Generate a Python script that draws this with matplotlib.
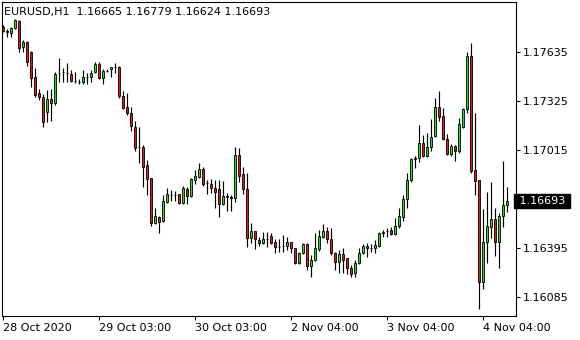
import matplotlib
matplotlib.use("Agg")
import matplotlib.pyplot as plt
import numpy as np

# EURUSD H1 bars, 28 Oct - 4 Nov 2020
opens = [1.17793, 1.17768, 1.17755, 1.17787, 1.17831, 1.17667, 1.17698, 1.17635, 1.17477, 1.17376,
         1.17350, 1.17255, 1.17338, 1.17312, 1.17502, 1.17508, 1.17502, 1.17496, 1.17452, 1.17445,
         1.17445, 1.17477, 1.17477, 1.17508, 1.17559, 1.17470, 1.17515, 1.17527, 1.17540, 1.17540,
         1.17357, 1.17287, 1.17249, 1.17160, 1.17034, 1.17034, 1.16920, 1.16838, 1.16553, 1.16591,
         1.16566, 1.16686, 1.16730, 1.16730, 1.16737, 1.16680, 1.16768, 1.16724, 1.16825, 1.16844,
         1.16895, 1.16806, 1.16800, 1.16775, 1.16768, 1.16673, 1.16724, 1.16718, 1.16711, 1.16983,
         1.16863, 1.16768, 1.16458, 1.16502, 1.16446, 1.16427, 1.16452, 1.16471, 1.16433, 1.16401,
         1.16408, 1.16408, 1.16433, 1.16395, 1.16300, 1.16363, 1.16420, 1.16281, 1.16319, 1.16389,
         1.16465, 1.16502, 1.16452, 1.16363, 1.16306, 1.16357, 1.16332, 1.16268, 1.16237, 1.16300,
         1.16363, 1.16408, 1.16395, 1.16395, 1.16408, 1.16490, 1.16502, 1.16509, 1.16483, 1.16534,
         1.16591, 1.16705, 1.16825, 1.16958, 1.16964, 1.17059, 1.16977, 1.17034, 1.17104, 1.17287,
         1.17230, 1.17085, 1.16990, 1.17040, 1.17009, 1.17160, 1.17274, 1.17610, 1.16888, 1.16825,
         1.16180, 1.16433, 1.16528, 1.16578, 1.16433, 1.16597, 1.16665]
highs = [1.17806, 1.17781, 1.17793, 1.17844, 1.17837, 1.17711, 1.17705, 1.17641, 1.17534, 1.17401,
         1.17369, 1.17395, 1.17401, 1.17508, 1.17597, 1.17534, 1.17565, 1.17521, 1.17508, 1.17464,
         1.17521, 1.17502, 1.17521, 1.17572, 1.17572, 1.17527, 1.17527, 1.17540, 1.17565, 1.17546,
         1.17388, 1.17376, 1.17287, 1.17198, 1.17160, 1.17047, 1.16952, 1.16838, 1.16648, 1.16597,
         1.16730, 1.16775, 1.16762, 1.16756, 1.16737, 1.16787, 1.16781, 1.16838, 1.16888, 1.16933,
         1.16907, 1.16825, 1.16831, 1.16825, 1.16825, 1.16819, 1.16743, 1.16730, 1.17034, 1.17028,
         1.16907, 1.16869, 1.16553, 1.16502, 1.16465, 1.16496, 1.16496, 1.16490, 1.16452, 1.16452,
         1.16477, 1.16465, 1.16433, 1.16395, 1.16370, 1.16427, 1.16427, 1.16351, 1.16490, 1.16509,
         1.16547, 1.16528, 1.16521, 1.16370, 1.16382, 1.16395, 1.16332, 1.16287, 1.16319, 1.16395,
         1.16420, 1.16427, 1.16420, 1.16446, 1.16496, 1.16509, 1.16521, 1.16528, 1.16585, 1.16648,
         1.16730, 1.16869, 1.16964, 1.16977, 1.17173, 1.17110, 1.17123, 1.17211, 1.17344, 1.17388,
         1.17281, 1.17116, 1.17053, 1.17047, 1.17217, 1.17281, 1.17635, 1.17692, 1.17249, 1.16825,
         1.16642, 1.16749, 1.16812, 1.16648, 1.16616, 1.16945, 1.16779]
lows = [1.17762, 1.17730, 1.17730, 1.17781, 1.17635, 1.17635, 1.17546, 1.17414, 1.17350, 1.17331,
        1.17160, 1.17192, 1.17198, 1.17300, 1.17445, 1.17445, 1.17445, 1.17445, 1.17439, 1.17433,
        1.17433, 1.17433, 1.17445, 1.17502, 1.17464, 1.17433, 1.17508, 1.17477, 1.17502, 1.17344,
        1.17274, 1.17236, 1.17135, 1.17009, 1.16933, 1.16781, 1.16730, 1.16534, 1.16547, 1.16490,
        1.16559, 1.16680, 1.16692, 1.16692, 1.16673, 1.16673, 1.16673, 1.16718, 1.16800, 1.16838,
        1.16787, 1.16737, 1.16743, 1.16648, 1.16591, 1.16667, 1.16629, 1.16629, 1.16686, 1.16812,
        1.16737, 1.16401, 1.16427, 1.16389, 1.16408, 1.16420, 1.16401, 1.16420, 1.16363, 1.16370,
        1.16370, 1.16382, 1.16363, 1.16294, 1.16294, 1.16357, 1.16256, 1.16211, 1.16313, 1.16376,
        1.16458, 1.16427, 1.16351, 1.16256, 1.16237, 1.16237, 1.16230, 1.16211, 1.16211, 1.16294,
        1.16357, 1.16338, 1.16370, 1.16363, 1.16401, 1.16465, 1.16465, 1.16477, 1.16477, 1.16521,
        1.16566, 1.16648, 1.16812, 1.16901, 1.16939, 1.16971, 1.16971, 1.17009, 1.17097, 1.17198,
        1.17078, 1.16983, 1.16977, 1.16945, 1.16996, 1.17154, 1.17249, 1.16869, 1.16730, 1.16009,
        1.16135, 1.16300, 1.16458, 1.16344, 1.16268, 1.16528, 1.16624]
closes = [1.17768, 1.17762, 1.17787, 1.17837, 1.17660, 1.17698, 1.17572, 1.17470, 1.17363, 1.17350,
          1.17192, 1.17338, 1.17312, 1.17496, 1.17502, 1.17508, 1.17502, 1.17452, 1.17452, 1.17445,
          1.17477, 1.17477, 1.17502, 1.17559, 1.17470, 1.17515, 1.17515, 1.17540, 1.17540, 1.17357,
          1.17281, 1.17249, 1.17167, 1.17028, 1.17034, 1.16907, 1.16831, 1.16553, 1.16597, 1.16559,
          1.16692, 1.16737, 1.16730, 1.16730, 1.16680, 1.16775, 1.16724, 1.16831, 1.16850, 1.16895,
          1.16800, 1.16806, 1.16775, 1.16749, 1.16673, 1.16724, 1.16718, 1.16711, 1.16983, 1.16850,
          1.16768, 1.16458, 1.16502, 1.16452, 1.16427, 1.16452, 1.16452, 1.16427, 1.16401, 1.16401,
          1.16408, 1.16433, 1.16395, 1.16300, 1.16363, 1.16420, 1.16281, 1.16319, 1.16395, 1.16471,
          1.16502, 1.16452, 1.16363, 1.16306, 1.16357, 1.16319, 1.16268, 1.16230, 1.16300, 1.16363,
          1.16408, 1.16395, 1.16395, 1.16414, 1.16490, 1.16496, 1.16502, 1.16483, 1.16534, 1.16597,
          1.16705, 1.16825, 1.16958, 1.16964, 1.17059, 1.16977, 1.17034, 1.17097, 1.17287, 1.17224,
          1.17085, 1.16990, 1.17040, 1.17009, 1.17179, 1.17274, 1.17610, 1.16882, 1.16819, 1.16180,
          1.16433, 1.16534, 1.16578, 1.16433, 1.16597, 1.16667, 1.16693]

tick_bars = [0, 24, 48, 72, 96, 120]
tick_labels = ["28 Oct 2020", "29 Oct 03:00", "30 Oct 03:00", "2 Nov 04:00", "3 Nov 04:00", "4 Nov 04:00"]
price_ticks = [1.16085, 1.16395, 1.17015, 1.17325, 1.17635]
last_price = 1.16693

plt.rcParams['font.family'] = 'DejaVu Sans'
plt.rcParams['font.size'] = 8

fig = plt.figure(figsize=(5.8, 3.4), dpi=100)
ax = fig.add_axes([2/580, 24/340, 514/580, 314/340])

x = np.arange(len(opens))
o = np.array(opens)
c = np.array(closes)
cols = np.where(c >= o, '#22dd22', '#e01818')

# wicks then bodies
ax.vlines(x, lows, highs, color='black', linewidth=0.85, zorder=1)
ax.bar(x, c - o, bottom=o, width=0.62, color=cols, edgecolor='black', linewidth=0.6, zorder=2)

ax.set_xlim(-0.25, 128.25)
ax.set_ylim(1.15965, 1.17951)

ax.set_xticks(tick_bars)
ax.set_xticklabels(tick_labels, ha='left')
ax.yaxis.tick_right()
ax.set_yticks(price_ticks)
ax.set_yticklabels([f"{p:.5f}" for p in price_ticks])
ax.tick_params(axis='both', direction='out', length=3, width=0.8, colors='black', pad=2)
for s in ax.spines.values():
    s.set_linewidth(0.8)
    s.set_color('black')

# symbol header
ax.text(0.004, 0.985, f"EURUSD,H1  {opens[-1]:.5f} {highs[-1]:.5f} {lows[-1]:.5f} {closes[-1]:.5f}",
        transform=ax.transAxes, ha='left', va='top', fontsize=8, color='black')

# current price tag
ax.text(1.0, last_price, f" {last_price:.5f} ", transform=ax.get_yaxis_transform(),
        ha='left', va='center', color='white', fontsize=8, clip_on=False, zorder=10,
        bbox=dict(boxstyle='square,pad=0.15', facecolor='black', edgecolor='black'))

fig.savefig("out.png", dpi=100)
